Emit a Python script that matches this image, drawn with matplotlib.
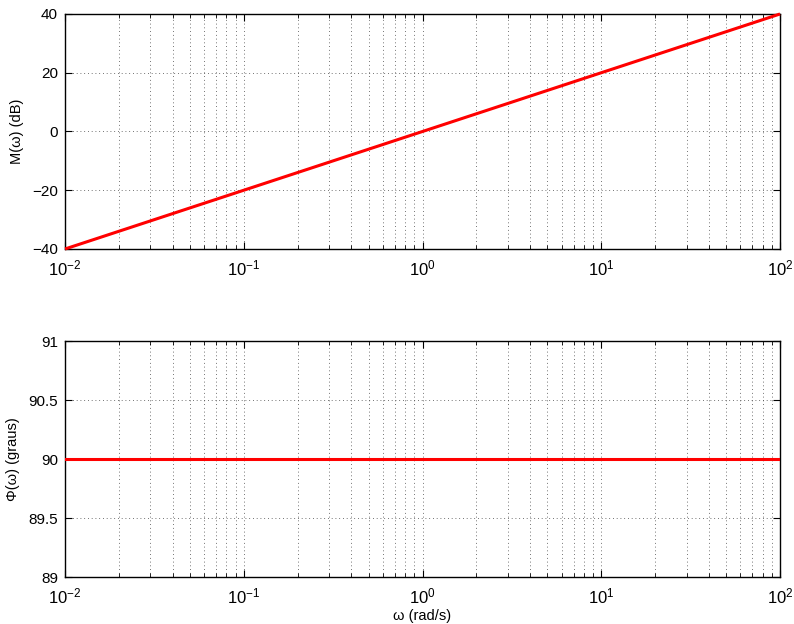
import matplotlib
matplotlib.use('Agg')
import matplotlib.pyplot as plt
from matplotlib.ticker import LogLocator, NullFormatter

plt.rcParams['font.family'] = ['Liberation Sans', 'DejaVu Sans']
plt.rcParams['font.size'] = 10.5
plt.rcParams['mathtext.fontset'] = 'custom'
plt.rcParams['mathtext.rm'] = 'Liberation Sans'

# frequency (rad/s), magnitude (dB), phase (deg) read at each decade
omega = [0.01, 0.1, 1, 10, 100]
mag_db = [-40, -20, 0, 20, 40]
phase_deg = [90, 90, 90, 90, 90]

mag_ticks = [-40, -20, 0, 20, 40]
phase_ticks = [89, 89.5, 90, 90.5, 91]
phase_labels = ['89', '89.5', '90', '90.5', '91']

fig = plt.figure(figsize=(7.94, 6.24), dpi=100)
ax1 = fig.add_axes([0.0819, 0.601, 0.9005, 0.3766])
ax2 = fig.add_axes([0.0819, 0.0753, 0.9005, 0.378])


def style(ax):
    ax.set_xscale('log')
    ax.set_xlim(1e-2, 1e2)
    ax.xaxis.set_major_locator(LogLocator(base=10, numticks=10))
    ax.xaxis.set_minor_locator(LogLocator(base=10, subs=range(2, 10), numticks=20))
    ax.xaxis.set_minor_formatter(NullFormatter())
    ax.tick_params(which='both', direction='in', top=True, right=True, labelsize=11)
    ax.tick_params(axis='x', which='major', pad=7, labelsize=12)
    ax.tick_params(axis='y', pad=5)
    ax.tick_params(which='major', length=5, width=0.8)
    ax.tick_params(which='minor', length=3, width=0.6)
    ax.grid(True, which='major', axis='both', linestyle=(0, (1, 3.5)), color='#444444', linewidth=0.6)
    ax.grid(True, which='minor', axis='x', linestyle=(0, (1, 3.5)), color='#444444', linewidth=0.6)
    for s in ax.spines.values():
        s.set_linewidth(1.0)


ax1.plot(omega, mag_db, color='red', linewidth=2.2, solid_capstyle='butt', clip_on=False, zorder=3)
style(ax1)
ax1.set_ylim(-40, 40)
ax1.set_yticks(mag_ticks)
ax1.set_yticklabels(['\u221240', '\u221220', '0', '20', '40'])
ax1.set_ylabel('M(\u03c9) (dB)', labelpad=6)

ax2.plot(omega, phase_deg, color='red', linewidth=2.2, zorder=3)
style(ax2)
ax2.set_ylim(89, 91)
ax2.set_yticks(phase_ticks)
ax2.set_yticklabels(phase_labels)
ax2.set_ylabel('\u03a6(\u03c9) (graus)', labelpad=6)
ax2.set_xlabel('\u03c9 (rad/s)', labelpad=2)

fig.savefig('out.png', dpi=100)
